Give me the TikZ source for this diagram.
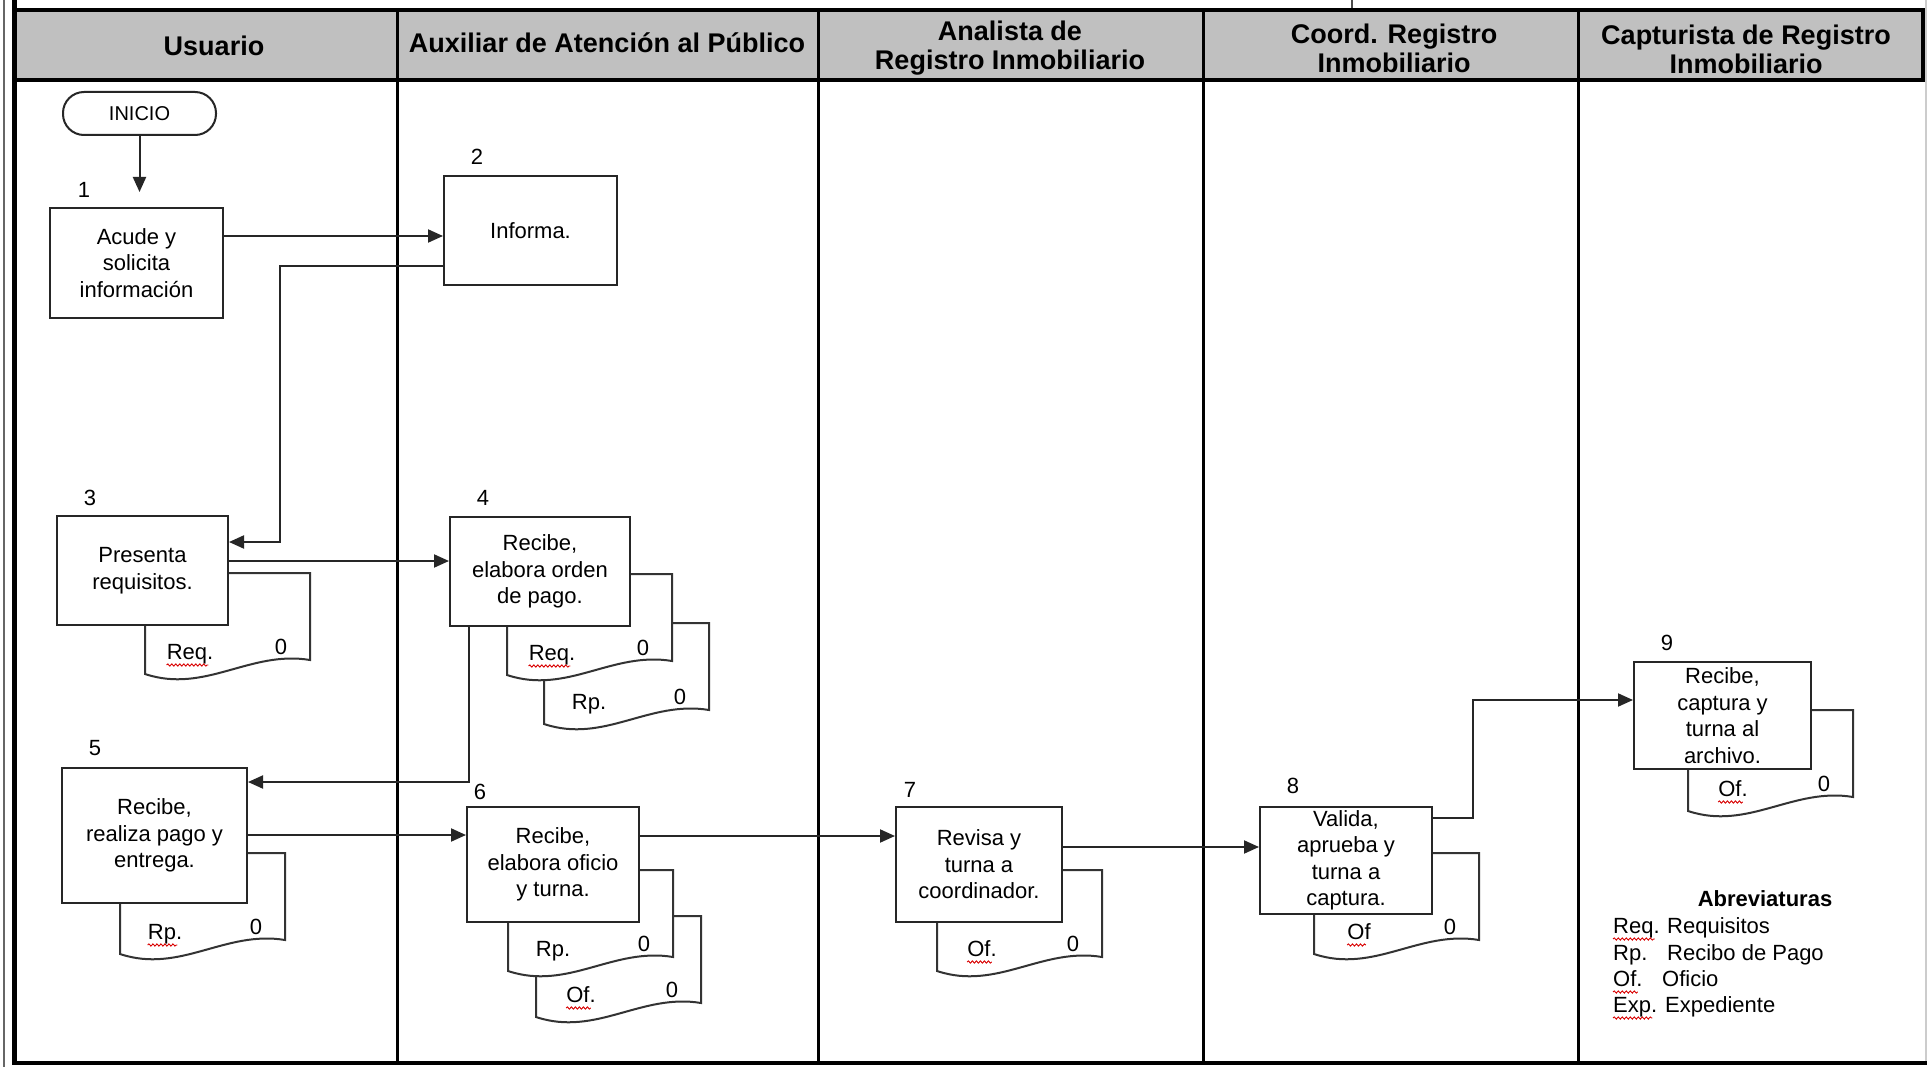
\documentclass[tikz,border=0pt]{standalone}
\usepackage{fontspec}
\setmainfont{Liberation Sans}
\usetikzlibrary{arrows.meta,decorations.pathmorphing}
\definecolor{hdr}{HTML}{C0C0C0}
\newcommand{\docu}[5]{%
  \begin{scope}[shift={(#2,#3)}]
    \draw[docline] (0,0) -- (165,0) -- (165,87) .. controls (105,77) and (60,121) .. (0,101) -- cycle;
    \node[lbl, anchor=base] (#1l) at (45,86) {#4};
    \node[lbl, anchor=base] (#1z) at (136,81) {0};
    \ifnum#5=1\relax \draw[squig] ([yshift=-6pt]#1l.base west) -- ([xshift=-5pt,yshift=-6pt]#1l.base east);\fi
  \end{scope}}
\begin{document}
\begin{tikzpicture}[x=1pt,y=-1pt,
  bodyfont/.style={font=\fontsize{22}{26.5}\selectfont},
  procbox/.style={draw=black!85, line width=2pt, fill=white, align=center, inner sep=0pt, bodyfont},
  docline/.style={draw=black!80, line width=2pt, fill=white},
  lbl/.style={inner sep=0pt, bodyfont},
  num/.style={inner sep=0pt, bodyfont},
  conn/.style={draw=black!85, line width=2pt},
  arr/.style={conn, -{Triangle[length=15pt,width=13pt]}},
  headtxt/.style={font=\fontsize{27}{29}\selectfont\bfseries, align=center, inner sep=0pt},
  squig/.style={draw=red!85!black, line width=0.9pt, decorate, decoration={snake, amplitude=1.1pt, segment length=4pt}},
]
\useasboundingbox (0,0) rectangle (1927,1067);
\fill[white] (0,0) rectangle (1927,1067);
% frame
\draw[black!60, line width=2pt] (4,0) -- (4,1067);
\draw[black!20, line width=2pt] (1926,0) -- (1926,1063);
\draw[black!70, line width=2pt] (1352,0) -- (1352,10);
\fill[hdr] (15,10) rectangle (1923,80);
\foreach \x in {397,818,1203,1578} \draw[black, line width=3pt] (\x,10) -- (\x,1063);
\draw[black, line width=4pt] (15,10) rectangle (1923,80);
\draw[black, line width=4.5pt] (14.5,0) -- (14.5,1065);
\draw[black, line width=4pt] (12.5,1063) -- (1927,1063);
% headers
\node[headtxt] (h1) at (214,50) {\strut Usuario};
\node[headtxt] (h2) at (607,46.7) {\strut Auxiliar de Atención al Público};
\node[headtxt] (h3) at (1010,49) {\strut Analista de\\\strut Registro Inmobiliario};
\node[headtxt] (h4) at (1394,52) {\strut Coord. Registro\\\strut Inmobiliario};
\node[headtxt] (h5) at (1746,53) {\strut Capturista de Registro\\\strut Inmobiliario};
% start
\node[draw=black!85, line width=2pt, rounded corners=21pt, minimum width=153pt, minimum height=43pt, inner sep=0pt, font=\fontsize{20}{24}\selectfont] (ini) at (139.5,113.5) {INICIO};
\coordinate (a1) at (139.5,192);
\draw[arr] (ini) -- (a1);
% documents
\docu{d3}{145}{573}{Req.}{1}
\docu{d4b}{544}{623}{Rp.}{0}
\docu{d4a}{507}{574}{Req.}{1}
\docu{d5}{120}{853}{Rp.}{1}
\docu{d6b}{536}{916}{Of.}{1}
\docu{d6a}{508}{870}{Rp.}{0}
\docu{d7}{937}{870}{Of.}{1}
\docu{d8}{1314}{853}{Of}{1}
\docu{d9}{1688}{710}{Of.}{1}
% boxes
\node[procbox, minimum width=173pt, minimum height=110pt] (b1) at (136.5,263) {Acude y\\solicita\\información};
\node[procbox, minimum width=173pt, minimum height=109pt] (b2) at (530.5,230.5) {Informa.};
\node[procbox, minimum width=171pt, minimum height=109pt] (b3) at (142.5,570.5) {Presenta\\requisitos.};
\node[procbox, minimum width=180pt, minimum height=109pt] (b4) at (540,571.5) {Recibe,\\elabora orden\\de pago.};
\node[procbox, minimum width=185pt, minimum height=135pt] (b5) at (154.5,835.5) {Recibe,\\realiza pago y\\entrega.};
\node[procbox, minimum width=172pt, minimum height=115pt] (b6) at (553,864.5) {Recibe,\\elabora oficio\\y turna.};
\node[procbox, minimum width=166pt, minimum height=115pt] (b7) at (979,864.5) {Revisa y\\turna a\\coordinador.};
\node[procbox, minimum width=172pt, minimum height=107pt] (b8) at (1346,860.5) {Valida,\\aprueba y\\turna a\\captura.};
\node[procbox, minimum width=177pt, minimum height=107pt] (b9) at (1722.5,715.5) {Recibe,\\captura y\\turna al\\archivo.};
% numbers
\node[num] (n1) at (84,190) {1};
\node[num] (n2) at (477,157) {2};
\node[num] (n3) at (90,498) {3};
\node[num] (n4) at (483,498) {4};
\node[num] (n5) at (95,748) {5};
\node[num] (n6) at (480,792) {6};
\node[num] (n7) at (910,790) {7};
\node[num] (n8) at (1293,786) {8};
\node[num] (n9) at (1667,643) {9};
% connectors
\coordinate (y236) at (0,236);
\draw[arr] (b1.east |- y236) -- (b2.west |- y236);
\coordinate (c1) at (280,266);
\coordinate (c2) at (280,542);
\draw[arr] (b2.west |- c1) -- (c1) -- (c2) -- (b3.east |- c2);
\coordinate (y561) at (0,561);
\draw[arr] (b3.east |- y561) -- (b4.west |- y561);
\coordinate (c3) at (469,782);
\draw[arr] (b4.south -| c3) -- (c3) -- (b5.east |- c3);
\coordinate (y835) at (0,835);
\draw[arr] (b5.east |- y835) -- (b6.west |- y835);
\coordinate (y836) at (0,836);
\draw[arr] (b6.east |- y836) -- (b7.west |- y836);
\coordinate (y847) at (0,847);
\draw[arr] (b7.east |- y847) -- (b8.west |- y847);
\coordinate (c4) at (1473,818);
\coordinate (c5) at (1473,700);
\draw[arr] (b8.east |- c4) -- (c4) -- (c5) -- (b9.west |- c5);
% abbreviations
\node[font=\fontsize{22}{26.5}\selectfont\bfseries, inner sep=0pt, anchor=base] (abt) at (1765,906) {Abreviaturas};
\node[lbl, anchor=base west] (ab1) at (1613,933) {Req.};
\node[lbl, anchor=base west] (ab1d) at (1667,933) {Requisitos};
\node[lbl, anchor=base west] (ab2) at (1613,960) {Rp.};
\node[lbl, anchor=base west] (ab2d) at (1667,960) {Recibo de Pago};
\node[lbl, anchor=base west] (ab3) at (1613,986) {Of.};
\node[lbl, anchor=base west] (ab3d) at (1662,986) {Oficio};
\node[lbl, anchor=base west] (ab4) at (1613,1012) {Exp.};
\node[lbl, anchor=base west] (ab4d) at (1665,1012) {Expediente};
\draw[squig] ([yshift=-6pt]ab1.base west) -- ([xshift=-5pt,yshift=-6pt]ab1.base east);
\draw[squig] ([yshift=-6pt]ab3.base west) -- ([xshift=-5pt,yshift=-6pt]ab3.base east);
\draw[squig] ([yshift=-6pt]ab4.base west) -- ([xshift=-5pt,yshift=-6pt]ab4.base east);
\end{tikzpicture}
\end{document}
